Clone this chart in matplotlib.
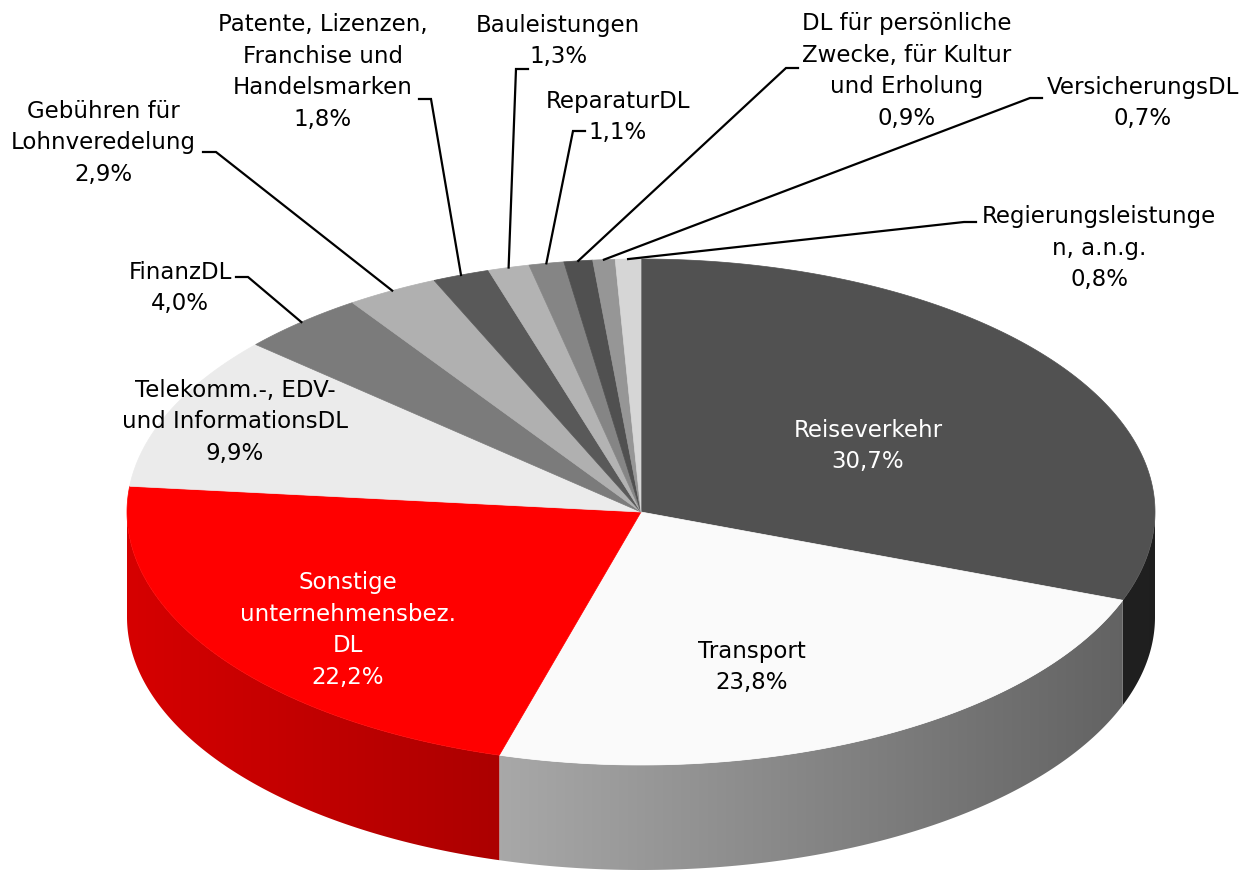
import numpy as np
import matplotlib
matplotlib.use("Agg")
import matplotlib.pyplot as plt
from matplotlib.patches import Polygon

# ======== data ========#
labels = ["Reiseverkehr", "Transport", "Sonstige\nunternehmensbez.\nDL",
          "Telekomm.-, EDV-\nund InformationsDL", "FinanzDL",
          "Gebühren für\nLohnveredelung",
          "Patente, Lizenzen,\nFranchise und\nHandelsmarken",
          "Bauleistungen", "ReparaturDL",
          "DL für persönliche\nZwecke, für Kultur\nund Erholung",
          "VersicherungsDL", "Regierungsleistunge\nn, a.n.g."]
shares = [30.7, 23.8, 22.2, 9.9, 4.0, 2.9, 1.8, 1.3, 1.1, 0.9, 0.7, 0.8]
colors = ["#515151", "#fafafa", "#ff0000", "#ebebeb", "#7b7b7b", "#b0b0b0",
          "#595959", "#b3b3b3", "#858585", "#505050", "#969696", "#d6d6d6"]

# ======== layout (pixels) ========#
W, H = 1248, 875
cx, cy, rx, ry, depth = 641, 512, 514, 253, 105

# label centres and text colour
lab_pos = [(868, 446), (752, 667), (348, 630), (235, 422), (180, 288),
           (103, 143), (323, 72), (558, 41), (618, 117), (907, 71),
           (1143, 103), (1099, 248)]
lab_col = ["white", "black", "white"] + ["black"] * 9
# leader lines: (elbow, hook end) for the outside labels
leaders = {4: ((248, 277), (236, 277)), 5: ((216, 152), (203, 152)),
           6: ((431, 99), (419, 99)), 7: ((516, 69), (528, 69)),
           8: ((573, 131), (585, 131)), 9: ((786, 68), (798, 68)),
           10: ((1030, 98), (1042, 98)), 11: ((964, 222), (976, 222))}


def pt(cw, dy=0.0):
    t = np.deg2rad(90.0 - cw)
    return cx + rx * np.cos(t), cy - ry * np.sin(t) + dy


def arc(a, b, dy=0.0, n=200):
    cw = np.linspace(a, b, n)
    x, y = pt(cw, dy)
    return np.column_stack([x, y])


def shade(x):
    return 0.84 - 0.46 * (x - 127.0) / 1028.0


fig = plt.figure(figsize=(W / 100, H / 100), dpi=100)
ax = fig.add_axes([0, 0, 1, 1])

vals = np.array(shares)
edges = np.concatenate([[0], np.cumsum(vals)]) / vals.sum() * 360.0

# side walls (front half only)
xs = np.arange(W) + 0.5
for i in range(len(vals)):
    a, b = max(edges[i], 90.0), min(edges[i + 1], 270.0)
    if a >= b:
        continue
    top = arc(a, b)
    bot = arc(a, b, depth)[::-1]
    poly = Polygon(np.vstack([top, bot]), closed=True, transform=ax.transData)
    rgb = np.array(matplotlib.colors.to_rgb(colors[i]))
    grad = np.clip(shade(xs)[:, None] * rgb[None, :], 0, 1)[None, :, :]
    im = ax.imshow(grad, extent=(0, W, H, 0), aspect="auto",
                   interpolation="bilinear", zorder=1)
    im.set_clip_path(poly)

# top surface
for i in range(len(vals)):
    verts = np.vstack([[cx, cy], arc(edges[i], edges[i + 1])])
    ax.add_patch(Polygon(verts, closed=True, facecolor=colors[i],
                         edgecolor=colors[i], lw=0.5, zorder=2))

# labels + leaders
for i in range(len(vals)):
    pct = ("%.1f%%" % shares[i]).replace(".", ",")
    ax.text(lab_pos[i][0], lab_pos[i][1], labels[i] + "\n" + pct,
            ha="center", va="center", multialignment="center",
            fontsize=16.5, color=lab_col[i], linespacing=1.48, zorder=4)
    if i in leaders:
        mid = 0.5 * (edges[i] + edges[i + 1])
        rx0, ry0 = pt(mid)
        (ex, ey), (hx, hy) = leaders[i]
        ax.plot([rx0, ex, hx], [ry0, ey, hy], color="black", lw=1.6,
                solid_joinstyle="miter", zorder=3)

ax.set_xlim(0, W)
ax.set_ylim(H, 0)
ax.axis("off")
fig.savefig("out.png", dpi=100, facecolor="white")
